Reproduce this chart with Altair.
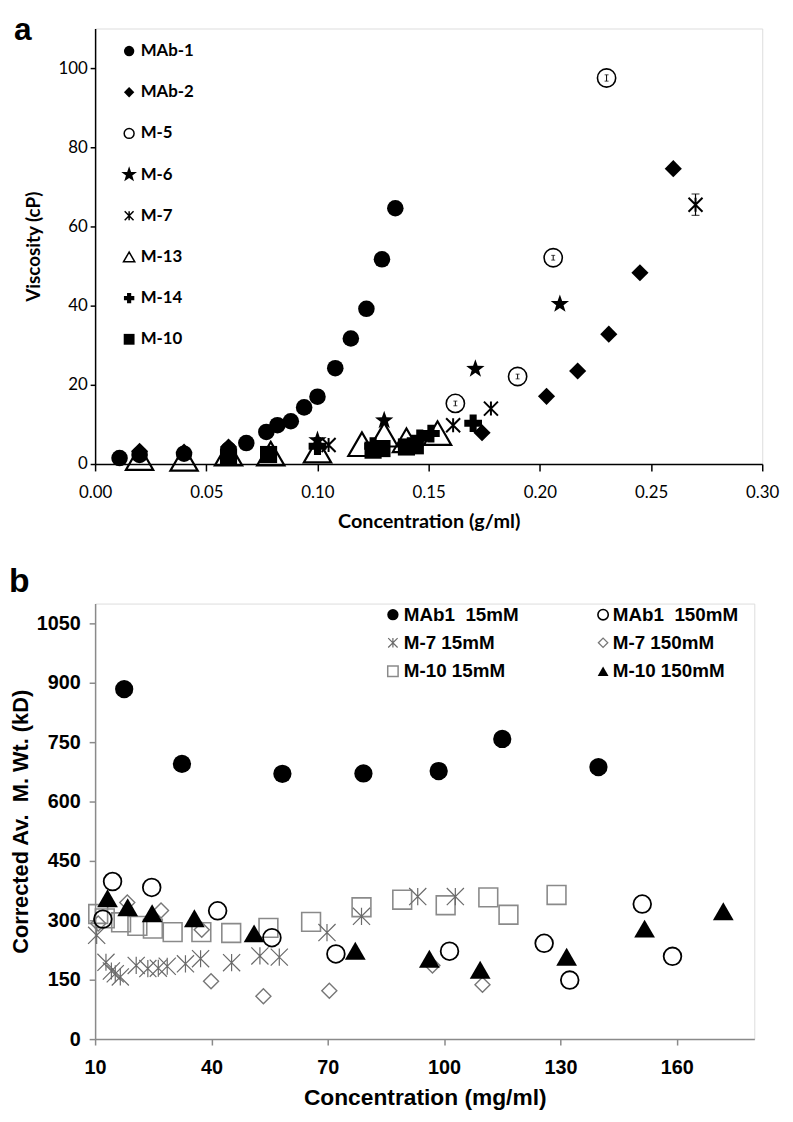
import altair as alt
import pandas as pd

# ---------------- Panel a : viscosity vs concentration ----------------
a_mab1_x = [0.011, 0.020, 0.040, 0.060, 0.068, 0.077, 0.082, 0.088, 0.094, 0.100, 0.108, 0.115, 0.122, 0.129, 0.135]
a_mab1_y = [1.5, 2.3, 2.6, 3.6, 5.3, 8.1, 9.8, 10.8, 14.3, 17.0, 24.2, 31.7, 39.2, 51.7, 64.6]
a_mab2_x = [0.020, 0.040, 0.060, 0.174, 0.203, 0.217, 0.231, 0.245, 0.260]
a_mab2_y = [3.2, 3.0, 4.3, 7.9, 17.1, 23.5, 32.8, 48.3, 74.6]
a_m5_x = [0.162, 0.190, 0.206, 0.230]
a_m5_y = [15.3, 22.1, 52.1, 97.5]
a_m5_err = [0.6, 0.6, 0.6, 0.8]
a_m6_x = [0.100, 0.130, 0.171, 0.209]
a_m6_y = [6.0, 11.0, 24.0, 40.4]
a_m7_x = [0.105, 0.161, 0.178, 0.270]
a_m7_y = [4.8, 9.8, 14.0, 65.5]
a_m7_err = [0.0, 0.0, 0.0, 2.7]
a_m13_x = [0.020, 0.040, 0.060, 0.079, 0.100, 0.120, 0.130, 0.140, 0.154]
a_m13_y = [1.5, 1.3, 2.6, 2.6, 3.4, 5.0, 7.4, 6.0, 7.8]
a_m14_x = [0.100, 0.125, 0.146, 0.151, 0.170]
a_m14_y = [4.5, 4.5, 6.5, 7.7, 10.3]
a_m10_x = [0.060, 0.078, 0.125, 0.129, 0.140, 0.144]
a_m10_y = [1.8, 2.4, 3.5, 3.9, 4.3, 4.6]

a_legend_labels = ["MAb-1", "MAb-2", "M-5", "M-6", "M-7", "M-13", "M-14", "M-10"]
a_legend_y = [104.3, 93.9, 83.5, 73.1, 62.7, 52.3, 41.9, 31.5]
a_legend_x = 0.0153
a_legend_tx = 0.0205
a_xticks = [0.00, 0.05, 0.10, 0.15, 0.20, 0.25, 0.30]
a_yticks = [0, 20, 40, 60, 80, 100]

# ---------------- Panel b : corrected av. M. Wt. vs concentration ----------------
b_mab1_15_x = [17.5, 32.4, 58.3, 79.2, 98.6, 115.0, 139.8]
b_mab1_15_y = [884, 695, 670, 671, 677, 758, 687]
b_mab1_150_x = [12.0, 14.5, 24.6, 41.6, 55.6, 72.1, 101.4, 125.8, 132.4, 151.1, 158.9]
b_mab1_150_y = [303, 398, 383, 324, 256, 215, 222, 242, 149, 341, 209]
b_m7_15_x = [10.4, 12.8, 14.2, 15.2, 16.5, 20.6, 23.6, 26.3, 28.6, 33.3, 37.2, 45.2, 52.5, 57.5, 69.8, 78.7, 93.2, 102.9]
b_m7_15_y = [262, 194, 172, 165, 157, 186, 178, 179, 184, 190, 203, 193, 210, 207, 269, 310, 360, 360]
b_m7_150_x = [10.8, 18.3, 27.0, 37.5, 39.9, 53.4, 70.4, 97.0, 109.9]
b_m7_150_y = [292, 345, 325, 276, 146, 108, 122, 186, 137]
b_m10_15_x = [10.8, 12.5, 16.7, 20.9, 24.9, 30.0, 37.4, 45.1, 54.7, 65.7, 78.7, 89.2, 100.4, 111.4, 116.6, 129.0]
b_m10_15_y = [316, 305, 295, 286, 279, 270, 270, 268, 281, 296, 333, 352, 338, 358, 314, 364]
b_m10_150_x = [13.2, 18.4, 24.7, 35.6, 51.0, 77.1, 96.2, 109.3, 131.6, 151.7, 172.0]
b_m10_150_y = [356, 333, 318, 305, 267, 223, 203, 175, 208, 279, 323]

b_legend_labels = ["MAb1\u00a0\u00a015mM", "M-7 15mM", "M-10 15mM",
                   "MAb1\u00a0\u00a0150mM", "M-7 150mM", "M-10 150mM"]
b_legend_x = [86.8, 86.8, 86.8, 141.0, 141.0, 141.0]
b_legend_tx = [89.6, 89.6, 89.6, 143.5, 143.5, 143.5]
b_legend_y = [1072, 1001, 929, 1072, 1001, 929]
b_xticks = [10, 40, 70, 100, 130, 160]
b_yticks = [0, 150, 300, 450, 600, 750, 900, 1050]

STAR = ("M0,-1L0.235,-0.324L0.951,-0.309L0.380,0.124L0.588,0.809L0,0.4"
        "L-0.588,0.809L-0.380,0.124L-0.951,-0.309L-0.235,-0.324Z")
ASTER = "M-1,-1L1,1M-1,1L1,-1M0,-1L0,1"

FA = "Lato"
FB = "Liberation Sans"

SX_A = alt.Scale(domain=[0, 0.30], nice=False, zero=False)
SY_A = alt.Scale(domain=[0, 110], nice=False, zero=False)
AX_XA = alt.Axis(values=a_xticks, format=".2f", title="Concentration (g/ml)", grid=False,
                 domainColor="black", domainWidth=1.5, tickColor="black", tickWidth=1.5,
                 tickSize=7, labelFont=FA, labelFontSize=17, labelColor="black",
                 labelPadding=14, labelFlush=False, labelOverlap=False,
                 titleFont=FA, titleFontSize=20, titleFontWeight="bold",
                 titleColor="black", titlePadding=11)
AX_YA = alt.Axis(values=a_yticks, title="Viscosity (cP)", grid=False,
                 domainColor="black", domainWidth=1.5, tickColor="black", tickWidth=1.5,
                 tickSize=5, labelFont=FA, labelFontSize=17, labelColor="black",
                 labelPadding=3, labelFlush=False, labelOverlap=False,
                 titleFont=FA, titleFontSize=19, titleFontWeight="bold",
                 titleColor="black", titleX=-52)
X_A = alt.X("x:Q", scale=SX_A, axis=AX_XA)
Y_A = alt.Y("y:Q", scale=SY_A, axis=AX_YA)


def df(xs, ys):
    return pd.DataFrame({"x": xs, "y": ys})


def pts(d, X, Y, shape, size, filled, color, sw=1.5):
    return alt.Chart(d).mark_point(shape=shape, size=size, filled=filled, color=color,
                                   strokeWidth=sw, opacity=1).encode(x=X, y=Y)


def errbars(xs, ys, errs, X, ys_scale, ys_axis, cap, sw):
    d = pd.DataFrame({"x": xs, "lo": [v - e for v, e in zip(ys, errs)],
                      "hi": [v + e for v, e in zip(ys, errs)]})
    d = d[d["hi"] > d["lo"]]
    rule = alt.Chart(d).mark_rule(color="black", strokeWidth=sw).encode(
        x=X, y=alt.Y("lo:Q", scale=ys_scale, axis=ys_axis), y2="hi:Q")
    t1 = alt.Chart(d).mark_tick(orient="horizontal", size=cap, thickness=sw, color="black").encode(
        x=X, y=alt.Y("lo:Q", scale=ys_scale, axis=ys_axis))
    t2 = alt.Chart(d).mark_tick(orient="horizontal", size=cap, thickness=sw, color="black").encode(
        x=X, y=alt.Y("hi:Q", scale=ys_scale, axis=ys_axis))
    return rule + t1 + t2


a_styles = [
    ("circle", True, 110),
    ("diamond", True, 110),
    ("circle", False, 100),
    (STAR, True, 280),
    (ASTER, False, 80),
    ("triangle-up", False, 130),
    ("cross", True, 110),
    ("square", True, 120),
]

layers_a = [
    pts(df(a_m13_x, a_m13_y), X_A, Y_A, "triangle-up", 760, False, "black", 2.2),
    pts(df(a_m10_x, a_m10_y), X_A, Y_A, "square", 300, True, "black"),
    pts(df(a_m14_x, a_m14_y), X_A, Y_A, "cross", 320, True, "black"),
    pts(df(a_mab1_x, a_mab1_y), X_A, Y_A, "circle", 280, True, "black"),
    pts(df(a_mab2_x, a_mab2_y), X_A, Y_A, "diamond", 300, True, "black"),
    pts(df(a_m5_x, a_m5_y), X_A, Y_A, "circle", 340, False, "black", 1.6),
    errbars(a_m5_x, a_m5_y, a_m5_err, X_A, SY_A, AX_YA, 4, 1),
    pts(df(a_m6_x, a_m6_y), X_A, Y_A, STAR, 380, True, "black"),
    pts(df(a_m7_x, a_m7_y), X_A, Y_A, ASTER, 200, False, "black", 2),
    errbars(a_m7_x, a_m7_y, a_m7_err, X_A, SY_A, AX_YA, 8, 1.2),
]
for lab, yv, (shp, fil, sz) in zip(a_legend_labels, a_legend_y, a_styles):
    layers_a.append(pts(df([a_legend_x], [yv]), X_A, Y_A, shp, sz, fil, "black", 1.5))
leg_a_text = alt.Chart(pd.DataFrame({"x": [a_legend_tx] * len(a_legend_labels),
                                     "y": a_legend_y, "t": a_legend_labels})).mark_text(
    align="left", baseline="middle", font=FA, fontSize=17, fontWeight="bold", color="black"
).encode(x=X_A, y=Y_A, text="t:N")
layers_a.append(leg_a_text)
label_a = alt.Chart(pd.DataFrame({"t": ["a"]})).mark_text(
    align="left", baseline="alphabetic", font=FB, fontSize=32, fontWeight="bold", color="black"
).encode(text="t:N", x=alt.value(-82), y=alt.value(12))
layers_a.append(label_a)

panel_a = alt.layer(*layers_a).properties(width=674, height=440)

# ---------------- panel b ----------------
GREY = "#8a8a8a"
SX_B = alt.Scale(domain=[10, 180], nice=False, zero=False)
SY_B = alt.Scale(domain=[0, 1100], nice=False, zero=False)
X_B = alt.X("x:Q", scale=SX_B,
            axis=alt.Axis(values=b_xticks, format="d", title="Concentration (mg/ml)", grid=False,
                          domainColor=GREY, domainWidth=1.5, tickColor=GREY, tickWidth=1.5,
                          tickSize=6, labelFont=FB, labelFontSize=20, labelFontWeight="bold",
                          labelColor="black", labelPadding=13, labelFlush=False, labelOverlap=False,
                          titleFont=FB, titleFontSize=23, titleFontWeight="bold",
                          titleColor="black", titlePadding=9))
Y_B = alt.Y("y:Q", scale=SY_B,
            axis=alt.Axis(values=b_yticks, format="d", title="Corrected Av.\u00a0\u00a0M. Wt. (kD)", grid=False,
                          domainColor=GREY, domainWidth=1.5, tickColor=GREY, tickWidth=1.5,
                          tickSize=6, labelFont=FB, labelFontSize=20, labelFontWeight="bold",
                          labelColor="black", labelPadding=9, labelFlush=False, labelOverlap=False,
                          titleFont=FB, titleFontSize=22, titleFontWeight="bold",
                          titleColor="black", titleX=-63))

b_styles = [
    ("circle", True, 130, "black", 1.5),
    (ASTER, False, 90, "#6a6a6a", 1.2),
    ("square", False, 110, GREY, 1.5),
    ("circle", False, 110, "black", 1.6),
    ("diamond", False, 90, "#777777", 1.3),
    ("triangle-up", True, 120, "black", 1.5),
]

layers_b = [
    pts(df(b_m10_15_x, b_m10_15_y), X_B, Y_B, "square", 360, False, GREY, 1.6),
    pts(df(b_m7_15_x, b_m7_15_y), X_B, Y_B, ASTER, 300, False, "#6a6a6a", 1.2),
    pts(df(b_m7_150_x, b_m7_150_y), X_B, Y_B, "diamond", 230, False, "#777777", 1.4),
    pts(df(b_mab1_150_x, b_mab1_150_y), X_B, Y_B, "circle", 320, False, "black", 1.8),
    pts(df(b_m10_150_x, b_m10_150_y), X_B, Y_B, "triangle-up", 440, True, "black"),
    pts(df(b_mab1_15_x, b_mab1_15_y), X_B, Y_B, "circle", 340, True, "black"),
]
for lx, ly, (shp, fil, sz, col, sw) in zip(b_legend_x, b_legend_y, b_styles):
    layers_b.append(pts(df([lx], [ly]), X_B, Y_B, shp, sz, fil, col, sw))
leg_b_text = alt.Chart(pd.DataFrame({"x": b_legend_tx, "y": b_legend_y, "t": b_legend_labels})).mark_text(
    align="left", baseline="middle", font=FB, fontSize=19, fontWeight="bold", color="black"
).encode(x=X_B, y=Y_B, text="t:N")
layers_b.append(leg_b_text)
label_b = alt.Chart(pd.DataFrame({"t": ["b"]})).mark_text(
    align="left", baseline="alphabetic", font=FB, fontSize=34, fontWeight="bold", color="black"
).encode(text="t:N", x=alt.value(-87), y=alt.value(-12))
layers_b.append(label_b)

panel_b = alt.layer(*layers_b).properties(width=666, height=440)

chart = alt.vconcat(panel_a, panel_b, spacing=32).properties(
    padding={"left": 0, "top": 0, "right": 5, "bottom": 0}
).configure_view(stroke=None).configure(background="white")

chart.save("out.html", embed_options={"renderer": "svg", "actions": False})
